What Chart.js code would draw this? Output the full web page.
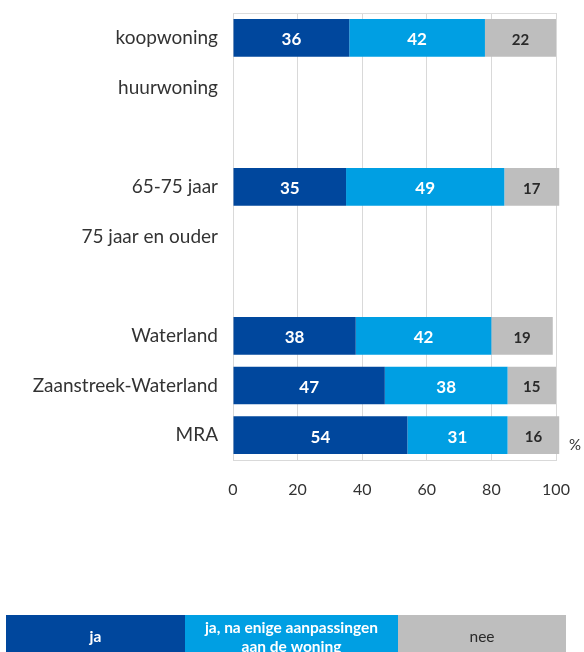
<!DOCTYPE html>
<html><head><meta charset="utf-8">
<script src="https://cdn.jsdelivr.net/npm/chart.js@4"></script>
<style>html,body{margin:0;padding:0;background:#fff}#wrap{width:584px;height:652px}</style>
</head><body><div id="wrap"><canvas id="c" width="584" height="652"></canvas></div>
<script>
const categories = ['koopwoning','huurwoning','','65-75 jaar','75 jaar en ouder','','Waterland','Zaanstreek-Waterland','MRA'];
const seriesNames = ['ja','ja, na enige aanpassingen aan de woning','nee'];
const legendLines = [['ja'],['ja, na enige aanpassingen','aan de woning'],['nee']];
const ja   = [36,null,null,35,null,null,38,47,54];
const jaNa = [42,null,null,49,null,null,42,38,31];
const nee  = [22,null,null,17,null,null,19,15,16];
const xTicks = [0,20,40,60,80,100];
const unitLabel = '%';

const colors = ['#00479d','#009fe3','#bebebe'];
const labelColors = ['#ffffff','#ffffff','#2a2a2a'];
const FONT = 'Lato, "Open Sans", sans-serif';

const frameLine = {
  id:'frameLine',
  beforeDatasetsDraw(chart){
    const {ctx, chartArea:a} = chart;
    ctx.save(); ctx.strokeStyle='#dcdcdc'; ctx.lineWidth=1;
    ctx.beginPath(); ctx.moveTo(a.left, Math.round(a.top)+0.5); ctx.lineTo(a.right, Math.round(a.top)+0.5); ctx.stroke();
    ctx.restore();
  }
};
const dataLabels = {
  id:'dataLabels',
  afterDatasetsDraw(chart){
    const ctx = chart.ctx;
    ctx.save();
    ctx.textAlign='center'; ctx.textBaseline='middle';
    chart.data.datasets.forEach((ds,i)=>{
      const meta = chart.getDatasetMeta(i);
      meta.data.forEach((el,j)=>{
        const v = ds.data[j];
        if (v===null || v===undefined) return;
        ctx.fillStyle = labelColors[i];
        ctx.font = (i===2 ? 'bold 15px ' : 'bold 17px ') + FONT;
        ctx.fillText(String(v), (el.x+el.base)/2, el.y+2);
      });
    });
    ctx.restore();
  }
};
const extras = {
  id:'extras',
  afterDraw(chart){
    const {ctx, chartArea:a} = chart;
    const ys = chart.scales.y;
    ctx.save();
    ctx.fillStyle='#333'; ctx.font='15px '+FONT; ctx.textAlign='center'; ctx.textBaseline='middle';
    ctx.fillText(unitLabel, a.right+19, ys.getPixelForValue(categories.length-1)+10);
    // legend band
    const edges=[6,185,398,566], top=615, h=45;
    legendLines.forEach((lines,i)=>{
      ctx.fillStyle=colors[i];
      ctx.fillRect(edges[i], top, edges[i+1]-edges[i], h);
      ctx.fillStyle=labelColors[i];
      ctx.font=(i===2?'':'bold ')+'15.5px '+FONT;
      const cx=(edges[i]+edges[i+1])/2;
      if(lines.length===1){ ctx.fillText(lines[0], cx, 637); }
      else { ctx.fillText(lines[0], cx, 628); ctx.fillText(lines[1], cx, 647); }
    });
    ctx.restore();
  }
};

const datasets = [ja, jaNa, nee].map((d,i)=>({
  label: seriesNames[i], data: d, backgroundColor: colors[i], borderWidth:0,
  barPercentage:0.76, categoryPercentage:1, clip:false
}));

new Chart(document.getElementById('c'), {
  type:'bar',
  data:{labels:categories, datasets},
  options:{
    indexAxis:'y', responsive:false, animation:false, devicePixelRatio:1,
    layout:{padding:{top:13,bottom:152,left:0,right:28}},
    plugins:{legend:{display:false}, tooltip:{enabled:false}},
    scales:{
      x:{
        type:'linear', min:0, max:100, stacked:true,
        afterBuildTicks(s){ s.ticks = xTicks.map(v=>({value:v})); },
        afterFit(s){ s.height=40; s.paddingLeft=0; s.paddingRight=0; },
        grid:{color:'#d9d9d9', drawTicks:false, lineWidth:1},
        border:{display:true, color:'#d9d9d9'},
        ticks:{padding:20, color:'#333', font:{family:FONT, size:16}}
      },
      y:{
        stacked:true,
        afterFit(s){ s.width=233; s.paddingTop=0; s.paddingBottom=0; },
        grid:{display:false, drawTicks:false},
        border:{display:false},
        ticks:{padding:15, color:'#333', font:{family:FONT, size:19}, autoSkip:false}
      }
    }
  },
  plugins:[frameLine, dataLabels, extras]
});
</script></body></html>
